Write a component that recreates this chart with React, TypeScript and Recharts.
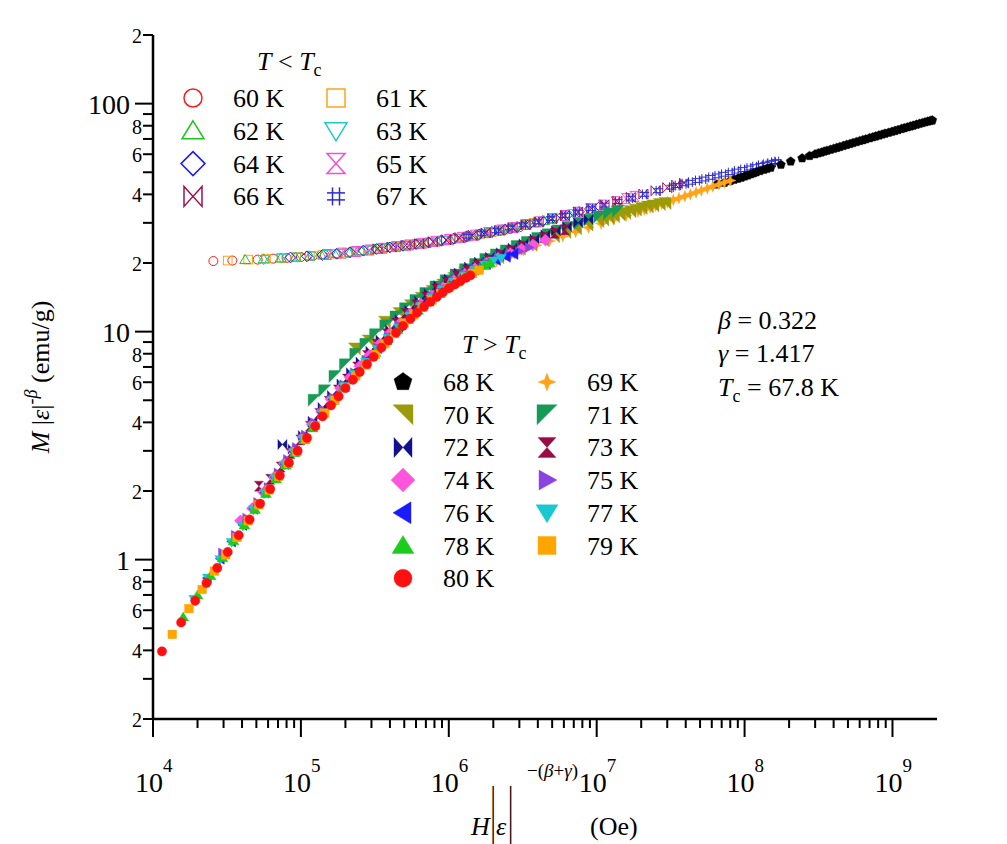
import React from 'react';
import { ScatterChart, Scatter, XAxis, YAxis } from 'recharts';

const FONT = 'Liberation Serif, serif';

// ---------- tick values ----------
const xTicks = [
  1e4, 2e4, 3e4, 4e4, 5e4, 6e4, 7e4, 8e4, 9e4,
  1e5, 2e5, 3e5, 4e5, 5e5, 6e5, 7e5, 8e5, 9e5,
  1e6, 2e6, 3e6, 4e6, 5e6, 6e6, 7e6, 8e6, 9e6,
  1e7, 2e7, 3e7, 4e7, 5e7, 6e7, 7e7, 8e7, 9e7,
  1e8, 2e8, 3e8, 4e8, 5e8, 6e8, 7e8, 8e8, 9e8,
  1e9,
];
const yTicks = [
  0.2, 0.3, 0.4, 0.5, 0.6, 0.7, 0.8, 0.9,
  1, 2, 3, 4, 5, 6, 7, 8, 9,
  10, 20, 30, 40, 50, 60, 70, 80, 90,
  100, 200,
];

// ---------- T < Tc ----------
const s60 = [[2.56e4,20.4],[3.44e4,20.5],[5.1e4,20.7],[6.5e4,20.9],[8e4,21.05],[1e5,21.25],[1.2e5,21.45],[1.45e5,21.7],[1.75e5,21.9],[2.1e5,22.15],[2.5e5,22.45],[3e5,22.8],[3.6e5,23.15],[4.3e5,23.5],[5.2e5,23.8],[6.2e5,24.15],[7.4e5,24.5],[8.9e5,24.9],[1.07e6,25.4],[1.28e6,25.9],[1.53e6,26.4],[1.83e6,27.0],[2.2e6,27.6],[2.6e6,28.2],[3.0e6,28.7]];
const s61 = [[3.2e4,20.5],[4.4e4,20.7],[5.8e4,20.9],[7.4e4,21.05],[9.3e4,21.25],[1.15e5,21.45],[1.4e5,21.7],[1.7e5,21.95],[2.05e5,22.2],[2.5e5,22.55],[3.0e5,22.9],[3.6e5,23.25],[4.4e5,23.6],[5.3e5,23.95],[6.4e5,24.3],[7.7e5,24.7],[9.3e5,25.1],[1.12e6,25.6],[1.35e6,26.1],[1.62e6,26.7],[1.95e6,27.3],[2.35e6,28.0],[2.8e6,28.7],[3.3e6,29.4],[3.8e6,30.0]];
const s62 = [[4.2e4,20.7],[5.6e4,20.85],[7.3e4,21.05],[9.2e4,21.25],[1.15e5,21.5],[1.42e5,21.75],[1.75e5,22.0],[2.15e5,22.3],[2.6e5,22.65],[3.2e5,23.0],[3.9e5,23.4],[4.7e5,23.75],[5.7e5,24.1],[6.9e5,24.5],[8.4e5,24.95],[1.02e6,25.4],[1.24e6,25.95],[1.5e6,26.5],[1.82e6,27.1],[2.2e6,27.8],[2.65e6,28.5],[3.2e6,29.3],[3.85e6,30.1],[4.4e6,30.7],[5.0e6,31.3]];
const s63 = [[5.6e4,20.7],[7.4e4,21.0],[9.5e4,21.2],[1.2e5,21.5],[1.5e5,21.8],[1.85e5,22.05],[2.3e5,22.4],[2.8e5,22.75],[3.4e5,23.1],[4.2e5,23.5],[5.1e5,23.85],[6.2e5,24.25],[7.6e5,24.7],[9.2e5,25.15],[1.12e6,25.65],[1.36e6,26.2],[1.65e6,26.8],[2.0e6,27.45],[2.45e6,28.15],[2.95e6,28.85],[3.6e6,29.7],[4.4e6,30.5],[5.3e6,31.4],[6.2e6,32.2],[7.0e6,32.9]];
const s64 = [[8.5e4,21.15],[1.1e5,21.4],[1.4e5,21.7],[1.75e5,21.95],[2.15e5,22.3],[2.65e5,22.65],[3.25e5,23.05],[4.0e5,23.4],[4.9e5,23.8],[6.0e5,24.2],[7.3e5,24.6],[8.9e5,25.1],[1.08e6,25.6],[1.32e6,26.15],[1.6e6,26.7],[1.95e6,27.4],[2.4e6,28.1],[2.9e6,28.8],[3.5e6,29.6],[4.3e6,30.5],[5.2e6,31.4],[6.3e6,32.4],[7.6e6,33.5],[9.0e6,34.5],[1.05e7,35.4]];
const s65 = [[1.5e5,21.8],[1.9e5,22.1],[2.35e5,22.45],[2.9e5,22.8],[3.55e5,23.2],[4.4e5,23.6],[5.4e5,24.0],[6.6e5,24.4],[8.1e5,24.9],[1.0e6,25.35],[1.22e6,25.9],[1.5e6,26.5],[1.85e6,27.2],[2.25e6,27.9],[2.75e6,28.6],[3.35e6,29.5],[4.1e6,30.3],[5.0e6,31.3],[6.1e6,32.3],[7.4e6,33.4],[9.0e6,34.6],[1.1e7,35.9],[1.34e7,37.1],[1.58e7,38.3],[1.8e7,39.2]];
const s66 = [[3.3e5,23.1],[4.1e5,23.5],[5.1e5,23.9],[6.3e5,24.3],[7.8e5,24.8],[9.6e5,25.3],[1.18e6,25.85],[1.45e6,26.45],[1.78e6,27.1],[2.2e6,27.85],[2.7e6,28.6],[3.3e6,29.45],[4.05e6,30.3],[5.0e6,31.3],[6.1e6,32.3],[7.5e6,33.5],[9.2e6,34.7],[1.13e7,36.0],[1.38e7,37.3],[1.7e7,38.8],[2.07e7,40.1],[2.5e7,41.5],[3.0e7,42.8],[3.45e7,43.9],[3.9e7,44.8]];
const s67 = [[1.35e6,26.2],[1.7e6,27.0],[2.1e6,27.7],[2.6e6,28.5],[3.2e6,29.4],[3.95e6,30.3],[4.9e6,31.3],[6.0e6,32.3],[7.4e6,33.4],[9.1e6,34.6],[1.12e7,35.9],[1.38e7,37.2],[1.7e7,38.5],[2.1e7,40.0],[2.6e7,41.5],[3.2e7,43.0],[3.5e7,43.7],[3.9e7,44.5],[4.3e7,45.2],[4.8e7,46.0],[5.3e7,46.7],[5.9e7,47.5],[6.5e7,48.2],[7.2e7,49.0],[8e7,49.8],[8.8e7,50.6],[9.7e7,51.4],[1.07e8,52.2],[1.17e8,52.9],[1.28e8,53.6],[1.38e8,54.2],[1.48e8,54.8],[1.57e8,55.3],[1.65e8,55.7]];

// ---------- T > Tc ----------
const s68 = [[6.5e7,44.2],[7.3e7,45.0],[8e7,45.8],[8.5e7,46.4],[9e7,46.9],[9.5e7,47.4],[1e8,48],[1.05e8,48.5],[1.1e8,49.0],[1.15e8,49.5],[1.2e8,50],[1.27e8,50.7],[1.35e8,51.3],[1.42e8,51.8],[1.5e8,52.4],[1.76e8,54],[2.05e8,55.8],[2.45e8,57.6],[2.75e8,59.0],[3.0e8,60.0],[3.15e8,60.6],[3.3e8,61.1],[3.45e8,61.7],[3.6e8,62.2],[3.8e8,62.8],[4.0e8,63.4],[4.2e8,64.0],[4.4e8,64.6],[4.65e8,65.3],[4.9e8,66.0],[5.15e8,66.6],[5.4e8,67.2],[5.7e8,67.9],[6.0e8,68.6],[6.3e8,69.2],[6.6e8,69.8],[7.0e8,70.6],[7.35e8,71.3],[7.7e8,71.9],[8.1e8,72.6],[8.5e8,73.3],[8.9e8,73.9],[9.4e8,74.6],[9.9e8,75.3],[1.04e9,76.0],[1.09e9,76.7],[1.15e9,77.5],[1.2e9,78.1],[1.26e9,78.8],[1.32e9,79.5],[1.38e9,80.1],[1.45e9,80.9],[1.52e9,81.6],[1.59e9,82.3],[1.66e9,82.9],[1.73e9,83.5],[1.8e9,84.1],[1.86e9,84.5]];
const s69 = [[6.7e5,14.2],[8.5e5,15.4],[1.08e6,16.6],[1.35e6,17.9],[1.7e6,19.2],[2.1e6,20.4],[2.6e6,21.6],[3.2e6,22.8],[3.9e6,23.9],[4.8e6,25.0],[5.9e6,26.2],[7.2e6,27.4],[8.8e6,28.6],[1.07e7,29.8],[1.3e7,31.0],[1.58e7,32.3],[1.9e7,33.6],[2.1e7,34.3],[2.3e7,35.0],[2.5e7,35.6],[2.75e7,36.3],[3.0e7,37.0],[3.3e7,37.8],[3.6e7,38.5],[3.95e7,39.3],[4.3e7,40.0],[4.7e7,40.8],[5.1e7,41.6],[5.6e7,42.5],[6.1e7,43.4],[6.7e7,44.3],[7.3e7,45.1],[8.0e7,46.0]];
const s70 = [[2.3e5,8.4],[2.85e5,9.1],[3.67e5,11.0],[4.6e5,12.0],[5.5e5,13.0],[6.5e5,14.0],[7.7e5,15.0],[9.1e5,16.0],[1.08e6,17.1],[1.28e6,18.1],[1.52e6,19.1],[1.8e6,20.1],[2.15e6,21.1],[2.55e6,22.1],[3.0e6,23.0],[3.6e6,24.0],[4.3e6,25.1],[5.1e6,26.1],[6.1e6,27.2],[7.2e6,28.2],[8.6e6,29.3],[1.02e7,30.4],[1.1e7,30.9],[1.2e7,31.4],[1.3e7,31.9],[1.42e7,32.5],[1.55e7,33.0],[1.68e7,33.6],[1.83e7,34.1],[2.0e7,34.7],[2.2e7,35.2],[2.4e7,35.6],[2.65e7,36.1],[2.9e7,36.5]];
const s71 = [[1.23e5,5.0],[1.45e5,5.5],[1.7e5,6.35],[2.0e5,7.15],[2.35e5,7.95],[2.75e5,8.8],[3.2e5,9.7],[3.75e5,10.6],[4.4e5,11.6],[5.1e5,12.6],[6.0e5,13.7],[7.0e5,14.7],[8.2e5,15.7],[9.6e5,16.7],[1.12e6,17.7],[1.3e6,18.7],[1.52e6,19.7],[1.78e6,20.7],[2.1e6,21.7],[2.45e6,22.6],[2.9e6,23.6],[3.4e6,24.6],[4.0e6,25.6],[4.7e6,26.6],[5.5e6,27.6],[6.5e6,28.6],[7.7e6,29.7],[9.0e6,30.8],[1.05e7,31.8],[1.22e7,32.8],[1.4e7,33.7]];
const s72 = [[7.5e4,3.2],[8.8e4,3.05],[1.03e5,3.5],[1.2e5,4.05],[1.4e5,4.65],[1.62e5,5.25],[1.88e5,5.9],[2.18e5,6.6],[2.53e5,7.35],[2.95e5,8.2],[3.45e5,9.2],[4.0e5,10.2],[4.65e5,11.3],[5.4e5,12.4],[6.3e5,13.6],[7.3e5,14.7],[8.5e5,15.9],[1.0e6,17.0],[1.17e6,18.1],[1.37e6,19.2],[1.6e6,20.2],[1.9e6,21.2],[2.25e6,22.2],[2.7e6,23.3],[3.2e6,24.3],[3.8e6,25.5],[4.5e6,26.6],[5.3e6,27.7],[6.3e6,28.9],[7.5e6,30.0],[8.8e6,31.0]];
const s73 = [[5.2e4,2.1],[6.2e4,2.25],[7.3e4,2.55],[8.5e4,2.92],[9.9e4,3.35],[1.15e5,3.85],[1.33e5,4.38],[1.54e5,4.95],[1.78e5,5.55],[2.05e5,6.2],[2.4e5,7.0],[2.8e5,7.85],[3.25e5,8.8],[3.8e5,9.8],[4.4e5,10.9],[5.1e5,12.0],[6.0e5,13.1],[7.0e5,14.2],[8.2e5,15.4],[9.6e5,16.5],[1.13e6,17.6],[1.33e6,18.6],[1.56e6,19.6],[1.85e6,20.6],[2.2e6,21.6],[2.6e6,22.6],[3.1e6,23.7],[3.7e6,24.8],[4.4e6,25.9],[5.2e6,27.0],[6.1e6,28.0]];
const s74 = [[3.9e4,1.48],[4.7e4,1.68],[5.6e4,1.97],[6.6e4,2.3],[7.7e4,2.64],[8.9e4,3.0],[1.03e5,3.45],[1.19e5,3.92],[1.38e5,4.45],[1.6e5,5.05],[1.85e5,5.65],[2.15e5,6.3],[2.5e5,7.05],[2.9e5,7.85],[3.4e5,8.8],[4.0e5,9.85],[4.7e5,10.9],[5.5e5,12.0],[6.5e5,13.2],[7.7e5,14.4],[9.1e5,15.6],[1.08e6,16.8],[1.28e6,17.9],[1.5e6,18.9],[1.8e6,20.0],[2.15e6,21.0],[2.6e6,22.0],[3.1e6,23.0],[3.7e6,24.0],[4.5e6,25.2]];
const s75 = [[2.95e4,1.07],[3.6e4,1.28],[4.3e4,1.52],[5.1e4,1.78],[6.0e4,2.07],[7.0e4,2.4],[8.1e4,2.75],[9.3e4,3.1],[1.07e5,3.52],[1.23e5,3.98],[1.42e5,4.52],[1.65e5,5.1],[1.95e5,5.85],[2.3e5,6.6],[2.75e5,7.5],[3.3e5,8.5],[3.9e5,9.5],[4.6e5,10.6],[5.5e5,11.9],[6.5e5,13.1],[7.7e5,14.3],[9.1e5,15.5],[1.08e6,16.7],[1.28e6,17.8],[1.5e6,18.8],[1.8e6,19.9],[2.15e6,20.9],[2.55e6,21.7],[3.0e6,22.5],[3.5e6,23.4]];
const s76 = [[2.33e4,0.83],[2.85e4,1.01],[3.4e4,1.2],[4.05e4,1.42],[4.8e4,1.67],[5.7e4,1.97],[6.7e4,2.3],[7.8e4,2.63],[9.0e4,2.98],[1.04e5,3.4],[1.2e5,3.85],[1.4e5,4.42],[1.65e5,5.05],[1.95e5,5.8],[2.3e5,6.6],[2.75e5,7.45],[3.3e5,8.45],[3.9e5,9.45],[4.6e5,10.5],[5.5e5,11.8],[6.5e5,13.0],[7.7e5,14.2],[9.1e5,15.4],[1.08e6,16.6],[1.28e6,17.7],[1.5e6,18.7],[1.8e6,19.8],[2.1e6,20.6],[2.45e6,21.3],[2.76e6,21.9]];
const s77 = [[1.9e4,0.67],[2.35e4,0.83],[2.85e4,1.0],[3.4e4,1.19],[4.05e4,1.4],[4.8e4,1.65],[5.7e4,1.95],[6.7e4,2.27],[7.8e4,2.6],[9.0e4,2.95],[1.04e5,3.36],[1.2e5,3.82],[1.4e5,4.38],[1.65e5,5.0],[1.95e5,5.75],[2.3e5,6.5],[2.75e5,7.35],[3.3e5,8.35],[3.9e5,9.35],[4.6e5,10.4],[5.5e5,11.7],[6.5e5,12.9],[7.7e5,14.1],[9.1e5,15.3],[1.08e6,16.5],[1.28e6,17.6],[1.5e6,18.6],[1.75e6,19.6],[2.0e6,20.4],[2.25e6,21.0]];
const s78 = [[1.6e4,0.56],[2.0e4,0.7],[2.45e4,0.85],[2.95e4,1.02],[3.5e4,1.21],[4.15e4,1.42],[4.9e4,1.66],[5.8e4,1.95],[6.8e4,2.26],[7.9e4,2.6],[9.1e4,2.95],[1.05e5,3.35],[1.2e5,3.78],[1.4e5,4.35],[1.65e5,5.0],[1.95e5,5.7],[2.3e5,6.45],[2.7e5,7.2],[3.2e5,8.1],[3.8e5,9.1],[4.5e5,10.2],[5.3e5,11.3],[6.2e5,12.4],[7.3e5,13.5],[8.6e5,14.7],[1.0e6,15.8],[1.17e6,16.9],[1.35e6,17.9],[1.55e6,18.8],[1.75e6,19.5],[1.9e6,20.0]];
const s79 = [[1.35e4,0.47],[1.75e4,0.61],[2.15e4,0.74],[2.6e4,0.89],[3.1e4,1.05],[3.7e4,1.25],[4.4e4,1.48],[5.2e4,1.74],[6.1e4,2.02],[7.1e4,2.32],[8.2e4,2.64],[9.4e4,2.98],[1.08e5,3.38],[1.25e5,3.87],[1.45e5,4.4],[1.7e5,5.0],[2.0e5,5.7],[2.35e5,6.4],[2.75e5,7.15],[3.2e5,7.95],[3.7e5,8.85],[4.3e5,9.8],[5.0e5,10.9],[5.8e5,11.85],[6.7e5,12.8],[7.7e5,13.75],[8.8e5,14.7],[1.0e6,15.6],[1.15e6,16.5],[1.3e6,17.3],[1.45e6,18.0],[1.6e6,18.6]];
const s80 = [[1.15e4,0.396],[1.55e4,0.53],[1.93e4,0.66],[2.3e4,0.79],[2.72e4,0.92],[3.2e4,1.08],[3.8e4,1.28],[4.5e4,1.5],[5.3e4,1.76],[6.2e4,2.04],[7.2e4,2.34],[8.3e4,2.66],[9.5e4,3.0],[1.1e5,3.42],[1.25e5,3.85],[1.4e5,4.25],[1.6e5,4.75],[1.8e5,5.2],[2.0e5,5.65],[2.25e5,6.15],[2.5e5,6.65],[2.8e5,7.2],[3.1e5,7.75],[3.5e5,8.5],[3.9e5,9.15],[4.4e5,9.9],[4.9e5,10.6],[5.5e5,11.4],[6.1e5,12.1],[6.8e5,12.85],[7.5e5,13.5],[8.3e5,14.2],[9.1e5,14.85],[1.0e6,15.5],[1.1e6,16.1],[1.2e6,16.7],[1.3e6,17.2],[1.4e6,17.65]];

// ---------- markers ----------
const SHAPES: Record<string, number[][]> = {
  triUp: [[0, -10], [11, 8], [-11, 8]],
  triDown: [[0, 10], [11, -8], [-11, -8]],
  triRight: [[10, 0], [-8, -10], [-8, 10]],
  triLeft: [[-10, 0], [8, -11], [8, 11]],
  diamond: [[0, -12], [12, 0], [0, 12], [-12, 0]],
  hourglass: [[-9, -10], [9, -10], [-9, 10], [9, 10]],
  bowtie: [[-9, -10], [-9, 10], [9, -10], [9, 10]],
  star4: [[0, -9], [2.5, -2.5], [9, 0], [2.5, 2.5], [0, 9], [-2.5, 2.5], [-9, 0], [-2.5, -2.5]],
  rtTR: [[-10, -10], [10, -10], [10, 10]],
  rtTL: [[-10, -10], [10, -10], [-10, 10]],
  pentagon: [[0, -9.5], [9.0, -2.9], [5.6, 7.7], [-5.6, 7.7], [-9.0, -2.9]],
};

function Marker(p: { kind: string; cx: number; cy: number; s: number; color: string; filled: boolean; sw: number }) {
  const { kind, cx, cy, s, color, filled, sw } = p;
  if (cx == null || cy == null || isNaN(cx) || isNaN(cy)) return <g />;
  const fill = filled ? color : 'none';
  const stroke = color;
  const strokeWidth = filled ? 0.4 : sw;
  if (kind === 'circle') return <circle cx={cx} cy={cy} r={9 * s} fill={fill} stroke={stroke} strokeWidth={strokeWidth} />;
  if (kind === 'square') return <rect x={cx - 9 * s} y={cy - 9 * s} width={18 * s} height={18 * s} fill={fill} stroke={stroke} strokeWidth={strokeWidth} />;
  if (kind === 'hash') {
    const a = 9 * s, b = 3.5 * s;
    return (
      <g stroke={color} strokeWidth={sw}>
        <line x1={cx - b} y1={cy - a} x2={cx - b} y2={cy + a} />
        <line x1={cx + b} y1={cy - a} x2={cx + b} y2={cy + a} />
        <line x1={cx - a} y1={cy - b} x2={cx + a} y2={cy - b} />
        <line x1={cx - a} y1={cy + b} x2={cx + a} y2={cy + b} />
      </g>
    );
  }
  const pts = SHAPES[kind].map(([a, b]) => `${cx + a * s},${cy + b * s}`).join(' ');
  return <polygon points={pts} fill={fill} stroke={stroke} strokeWidth={strokeWidth} strokeLinejoin="miter" />;
}

const series = [
  { name: '60 K', data: s60, kind: 'circle', color: '#ff1a1a', filled: false, s: 0.5 },
  { name: '61 K', data: s61, kind: 'square', color: '#ffa31a', filled: false, s: 0.48 },
  { name: '62 K', data: s62, kind: 'triUp', color: '#1fc41f', filled: false, s: 0.5 },
  { name: '63 K', data: s63, kind: 'triDown', color: '#1ec8c8', filled: false, s: 0.5 },
  { name: '64 K', data: s64, kind: 'diamond', color: '#1a1aff', filled: false, s: 0.45 },
  { name: '65 K', data: s65, kind: 'hourglass', color: '#f050d8', filled: false, s: 0.5 },
  { name: '66 K', data: s66, kind: 'bowtie', color: '#a01050', filled: false, s: 0.5 },
  { name: '67 K', data: s67, kind: 'hash', color: '#2a2ad0', filled: false, s: 0.55 },
  { name: '68 K', data: s68, kind: 'pentagon', color: '#000000', filled: true, s: 0.5 },
  { name: '69 K', data: s69, kind: 'star4', color: '#ffa31a', filled: true, s: 0.65 },
  { name: '70 K', data: s70, kind: 'rtTR', color: '#9a9a0a', filled: true, s: 0.6 },
  { name: '71 K', data: s71, kind: 'rtTL', color: '#179a55', filled: true, s: 0.6 },
  { name: '72 K', data: s72, kind: 'bowtie', color: '#12128f', filled: true, s: 0.5 },
  { name: '73 K', data: s73, kind: 'hourglass', color: '#9a0a45', filled: true, s: 0.5 },
  { name: '74 K', data: s74, kind: 'diamond', color: '#ff55dd', filled: true, s: 0.5 },
  { name: '75 K', data: s75, kind: 'triRight', color: '#8a45e0', filled: true, s: 0.5 },
  { name: '76 K', data: s76, kind: 'triLeft', color: '#1a1aff', filled: true, s: 0.5 },
  { name: '77 K', data: s77, kind: 'triDown', color: '#19c8d0', filled: true, s: 0.5 },
  { name: '78 K', data: s78, kind: 'triUp', color: '#1ccc1c', filled: true, s: 0.5 },
  { name: '79 K', data: s79, kind: 'square', color: '#ffa500', filled: true, s: 0.48 },
  { name: '80 K', data: s80, kind: 'circle', color: '#ff1010', filled: true, s: 0.52 },
];

// ---------- ticks ----------
const XTick = (props: any) => {
  const { x, y, payload } = props;
  const v = payload.value;
  const lg = Math.log10(v);
  const e = Math.round(lg);
  const major = Math.abs(lg - e) < 1e-6;
  return (
    <g>
      <line x1={x} y1={y} x2={x} y2={y + (major ? 18 : 9)} stroke="#000" strokeWidth={2} />
      {major && (
        <text x={x + 10} y={y + 73} textAnchor="end" fontSize={28} fontFamily={FONT} fill="#000">10</text>
      )}
      {major && (
        <text x={x + 10} y={y + 53} textAnchor="start" fontSize={19} fontFamily={FONT} fill="#000">{e}</text>
      )}
    </g>
  );
};

const YTick = (props: any) => {
  const { x, y, payload } = props;
  const v = payload.value;
  const e = Math.floor(Math.log10(v) + 1e-9);
  const m = Math.round(v / Math.pow(10, e));
  const major = m === 1;
  const labelled = major || m % 2 === 0;
  return (
    <g>
      <line x1={x - (major ? 18 : 10)} y1={y} x2={x} y2={y} stroke="#000" strokeWidth={2} />
      {major && (
        <text x={x - 23} y={y + 10} textAnchor="end" fontSize={28} fontFamily={FONT} fill="#000">{String(v)}</text>
      )}
      {!major && labelled && (
        <text x={x - 11} y={y + 8} textAnchor="end" fontSize={20} fontFamily={FONT} fill="#000">{String(m)}</text>
      )}
    </g>
  );
};

// ---------- legend / annotations ----------
function LegendBlock(p: { items: typeof series; x0: number; x1: number; tx0: number; tx1: number; y0: number; dy: number }) {
  return (
    <g>
      {p.items.map((it, i) => {
        const row = Math.floor(i / 2);
        const col = i % 2;
        const base = p.y0 + row * p.dy;
        const mx = col === 0 ? p.x0 : p.x1;
        const tx = col === 0 ? p.tx0 : p.tx1;
        return (
          <g key={it.name}>
            <Marker kind={it.kind} cx={mx} cy={base - 9} s={1} color={it.color} filled={it.filled} sw={1.5} />
            <text x={tx} y={base} fontSize={26} fontFamily={FONT} fill="#000">{it.name}</text>
          </g>
        );
      })}
    </g>
  );
}

export default function App() {
  const low = series.slice(0, 8);
  const high = series.slice(8);
  return (
    <div style={{ position: 'absolute', left: 0, top: 0, width: 1007, height: 844, background: '#fff', fontFamily: FONT }}>
      <ScatterChart width={1007} height={844} margin={{ top: 35, right: 70, bottom: 85, left: 93 }}>
        <XAxis
          dataKey="x" type="number" scale="log" domain={[1e4, 2e9]} allowDataOverflow
          ticks={xTicks} interval={0} tick={<XTick />} tickLine={false} tickSize={0} tickMargin={0}
          height={40} axisLine={{ stroke: '#000', strokeWidth: 2.5 }}
        />
        <YAxis
          dataKey="y" type="number" scale="log" domain={[0.2, 200]} allowDataOverflow
          ticks={yTicks} interval={0} tick={<YTick />} tickLine={false} tickSize={0} tickMargin={0}
          width={60} axisLine={{ stroke: '#000', strokeWidth: 2.5 }}
        />
        <XAxis
          xAxisId="top" orientation="top" type="number" scale="log" domain={[1e4, 2e9]} allowDataOverflow
          tick={false} tickLine={false} height={0} axisLine={{ stroke: '#000', strokeWidth: 2.5 }}
        />
        <YAxis
          yAxisId="right" orientation="right" type="number" scale="log" domain={[0.2, 200]} allowDataOverflow
          tick={false} tickLine={false} width={0} axisLine={{ stroke: '#000', strokeWidth: 2.5 }}
        />
        {series.map((s) => (
          <Scatter
            key={s.name}
            name={s.name}
            data={s.data.map(([x, y]) => ({ x, y }))}
            isAnimationActive={false}
            shape={(props: any) => (
              <Marker kind={s.kind} cx={props.cx} cy={props.cy} s={s.s} color={s.color} filled={s.filled} sw={1} />
            )}
          />
        ))}
      </ScatterChart>
      <svg width={1007} height={844} style={{ position: 'absolute', left: 0, top: 0, pointerEvents: 'none' }}>
        {/* legend T < Tc */}
        <text x={257} y={70} fontSize={26} fontFamily={FONT} fill="#000">
          <tspan fontStyle="italic">T</tspan> &lt; <tspan fontStyle="italic">T</tspan>
          <tspan fontSize={18} dy={6}>c</tspan>
        </text>
        <LegendBlock items={low} x0={193} x1={336} tx0={233} tx1={376} y0={107} dy={32.8} />
        {/* legend T > Tc */}
        <text x={462} y={353} fontSize={26} fontFamily={FONT} fill="#000">
          <tspan fontStyle="italic">T</tspan> &gt; <tspan fontStyle="italic">T</tspan>
          <tspan fontSize={18} dy={6}>c</tspan>
        </text>
        <LegendBlock items={high} x0={403} x1={547} tx0={443} tx1={587} y0={391} dy={32.7} />
        {/* parameters */}
        <text x={718} y={329} fontSize={26} fontFamily={FONT} fill="#000">
          <tspan fontStyle="italic">β</tspan> = 0.322
        </text>
        <text x={718} y={362} fontSize={26} fontFamily={FONT} fill="#000">
          <tspan fontStyle="italic">γ</tspan> = 1.417
        </text>
        <text x={718} y={396} fontSize={26} fontFamily={FONT} fill="#000">
          <tspan fontStyle="italic">T</tspan>
          <tspan fontSize={18} dy={6}>c</tspan>
          <tspan dy={-6}> = 67.8 K</tspan>
        </text>
        {/* x-axis title */}
        <text x={471} y={835} fontSize={26} fontFamily={FONT} fill="#000" fontStyle="italic">H</text>
        <text transform="translate(490.5 830) scale(1 2.4)" x={0} y={0} fontSize={26} fontFamily={FONT} fill="#000">|</text>
        <text x={496} y={835} fontSize={26} fontFamily={FONT} fill="#000" fontStyle="italic">ε</text>
        <text transform="translate(508 830) scale(1 2.4)" x={0} y={0} fontSize={26} fontFamily={FONT} fill="#000">|</text>
        <text x={527} y={777} fontSize={19} fontFamily={FONT} fill="#000">
          −(<tspan fontStyle="italic">β</tspan>+<tspan fontStyle="italic">γ</tspan>)
        </text>
        <text x={590} y={835} fontSize={26} fontFamily={FONT} fill="#000">(Oe)</text>
        {/* y-axis title */}
        <text x={49} y={377} fontSize={26} fontFamily={FONT} fill="#000" textAnchor="middle" transform="rotate(-90 49 377)">
          <tspan fontStyle="italic">M</tspan> |<tspan fontStyle="italic">ε</tspan>|
          <tspan fontSize={18} dy={-12}>-<tspan fontStyle="italic">β</tspan></tspan>
          <tspan dy={12}> (emu/g)</tspan>
        </text>
      </svg>
    </div>
  );
}
